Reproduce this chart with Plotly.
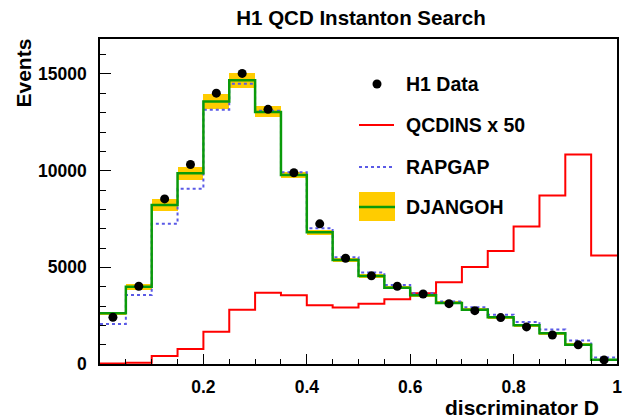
import plotly.graph_objects as go

# ---- data ----
bin_edges = [round(0.05 * i, 2) for i in range(21)]
bin_centers = [round(0.025 + 0.05 * i, 3) for i in range(20)]
h1_data = [2420, 4020, 8540, 10320, 14010, 15030, 13170, 9890, 7250, 5470,
           4560, 4020, 3620, 3120, 2760, 2400, 1920, 1500, 990, 210]
djangoh = [2620, 4000, 8220, 9870, 13580, 14670, 13040, 9770, 6820, 5380,
           4550, 3950, 3560, 3160, 2800, 2420, 2000, 1590, 1000, 220]
djangoh_err = [90, 150, 330, 330, 400, 400, 280, 160, 130, 110,
               90, 80, 80, 80, 80, 80, 80, 70, 70, 60]
rapgap = [2070, 3570, 7250, 9070, 13150, 14490, 13100, 9920, 7020, 5520,
          4730, 4090, 3660, 3230, 2930, 2550, 2170, 1790, 1210, 330]
qcdins_x50 = [20, 70, 410, 780, 1670, 2800, 3680, 3560, 3040, 2920,
              3110, 3350, 3660, 4230, 5020, 5850, 7110, 8710, 10830, 5610]

x_tickvals = [0, 0.2, 0.4, 0.6, 0.8, 1]
x_ticktext = ["", "0.2", "0.4", "0.6", "0.8", "1"]
y_tickvals = [0, 5000, 10000, 15000]
y_ticktext = ["0", "5000", "10000", "15000"]

FONT = "Liberation Sans, Arial, sans-serif"
GOLD = "#FFCC00"
GREEN = "#0A9A0A"
RED = "#FF0000"
BLUE = "#5A5AE6"


def steps(vals):
    return vals + [vals[-1]]


fig = go.Figure()

# DJANGOH uncertainty band
fig.add_trace(go.Bar(
    x=bin_centers,
    y=[2 * e for e in djangoh_err],
    base=[d - e for d, e in zip(djangoh, djangoh_err)],
    width=0.05,
    marker=dict(color=GOLD, line=dict(width=0)),
    showlegend=False,
    hoverinfo="skip",
))

# QCDINS x 50
fig.add_trace(go.Scatter(
    x=bin_edges, y=steps(qcdins_x50), mode="lines",
    line=dict(color=RED, width=2, shape="hv"), showlegend=False,
))

# RAPGAP
fig.add_trace(go.Scatter(
    x=bin_edges, y=steps(rapgap), mode="lines",
    line=dict(color=BLUE, width=2, shape="hv", dash="dot"), showlegend=False,
))

# DJANGOH
fig.add_trace(go.Scatter(
    x=bin_edges, y=steps(djangoh), mode="lines",
    line=dict(color=GREEN, width=2.5, shape="hv"), showlegend=False,
))

# H1 data
fig.add_trace(go.Scatter(
    x=bin_centers, y=h1_data, mode="markers",
    marker=dict(color="black", size=9), showlegend=False,
))

# ---- manual legend (pixel geometry converted to paper coords) ----
L, R, T, B = 100, 617, 39, 364
W, H = R - L, B - T


def px(x):
    return (x - L) / W


def py(y):
    return (B - y) / H


shapes = []
annotations = []
leg_text_x = 404
rows = [("H1 Data", 84), ("QCDINS x 50", 125), ("RAPGAP", 167), ("DJANGOH", 207)]
for label, yy in rows:
    annotations.append(dict(
        x=px(leg_text_x), y=py(yy), xref="paper", yref="paper",
        xanchor="left", yanchor="middle", showarrow=False, text=label,
        font=dict(family=FONT, size=19.5, color="black", weight="bold"),
    ))

# legend symbols
fig.add_trace(go.Scatter(
    x=[px(377)], y=[py(84)], xaxis="x2", yaxis="y2", mode="markers",
    marker=dict(color="black", size=9), showlegend=False, hoverinfo="skip",
))
shapes.append(dict(type="line", xref="paper", yref="paper",
                   x0=px(359), x1=px(394), y0=py(125), y1=py(125),
                   line=dict(color=RED, width=2)))
shapes.append(dict(type="line", xref="paper", yref="paper",
                   x0=px(359), x1=px(394), y0=py(167), y1=py(167),
                   line=dict(color=BLUE, width=2, dash="dot")))
shapes.append(dict(type="rect", xref="paper", yref="paper",
                   x0=px(359), x1=px(395), y0=py(221), y1=py(192),
                   fillcolor=GOLD, line=dict(width=0)))
shapes.append(dict(type="line", xref="paper", yref="paper",
                   x0=px(359), x1=px(395), y0=py(207), y1=py(207),
                   line=dict(color=GREEN, width=2.5)))

# axis titles
annotations.append(dict(
    x=px(23), y=py(37), xref="paper", yref="paper", xanchor="center", yanchor="top",
    textangle=-90, showarrow=False, text="Events",
    font=dict(family=FONT, size=21, color="black", weight="bold"),
))
annotations.append(dict(
    x=px(601), y=py(407), xref="paper", yref="paper", xanchor="right",
    yanchor="middle", showarrow=False, text="discriminator D",
    font=dict(family=FONT, size=21, color="black", weight="bold"),
))

tickfont = dict(family=FONT, size=17.5, color="black", weight="bold")

fig.update_layout(
    width=638, height=419,
    margin=dict(l=L, r=638 - R, t=T, b=419 - B, autoexpand=False),
    paper_bgcolor="white", plot_bgcolor="white",
    bargap=0,
    title=dict(text="<b>H1 QCD Instanton Search</b>", x=361 / 638, xref="container",
               xanchor="center", y=1 - 18 / 419, yref="container", yanchor="middle",
               font=dict(family=FONT, size=20.5, color="black")),
    xaxis=dict(range=[0, 1], showgrid=False, zeroline=False, automargin=False,
               showline=True, linecolor="black", linewidth=1.5, mirror=True,
               ticks="inside", ticklen=10, tickwidth=1, tickcolor="black",
               tickvals=x_tickvals, ticktext=x_ticktext, tickfont=tickfont,
               ticklabelstandoff=6,
               minor=dict(dtick=0.05, tick0=0, ticks="inside", ticklen=5,
                          tickcolor="black", tickwidth=1, showgrid=False)),
    yaxis=dict(range=[0, 16810], showgrid=False, zeroline=False, automargin=False,
               showline=True, linecolor="black", linewidth=1.5, mirror=True,
               ticks="inside", ticklen=11, tickwidth=1, tickcolor="black",
               tickvals=y_tickvals, ticktext=y_ticktext, tickfont=tickfont,
               ticklabelstandoff=8,
               minor=dict(dtick=1000, tick0=0, ticks="inside", ticklen=6,
                          tickcolor="black", tickwidth=1, showgrid=False)),
    xaxis2=dict(range=[0, 1], overlaying="x", visible=False, automargin=False),
    yaxis2=dict(range=[0, 1], overlaying="y", visible=False, automargin=False),
    shapes=shapes,
    annotations=annotations,
)

fig.write_html(
    "out.html",
    config={"displayModeBar": False},
    post_script="document.body.style.margin='0';document.body.style.overflow='hidden';",
)
